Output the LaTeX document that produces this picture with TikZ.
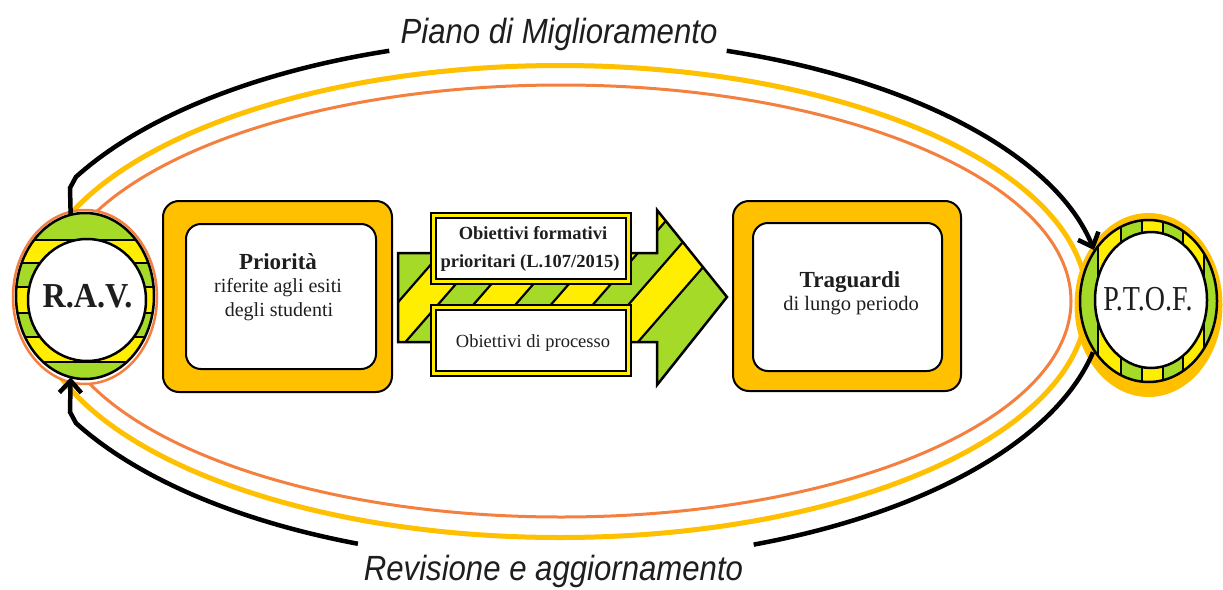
\documentclass[tikz,border=0pt]{standalone}
\usepackage{fontspec}
\setmainfont{Liberation Serif}
\newfontfamily\capfont[FakeStretch=0.89]{Liberation Sans}
\newfontfamily\ptoffont[FakeStretch=0.8]{Liberation Serif}
\newfontfamily\ravfont[FakeStretch=0.92]{Liberation Serif}
\usetikzlibrary{arrows.meta,shapes.geometric}
\definecolor{lime}{RGB}{165,218,40}
\definecolor{yel}{RGB}{255,238,0}
\definecolor{gold}{RGB}{255,192,0}
\definecolor{orng}{RGB}{244,128,64}
\definecolor{ink}{RGB}{30,30,30}
\begin{document}
\begin{tikzpicture}[x=1pt,y=-1pt,
  blk/.style={line width=4.5pt, draw=black},
  tipstyle/.style={-{Straight Barb[length=12pt,width=22pt]}},
  goldbox/.style={draw=black, line width=2pt, fill=gold, rounded corners=16pt, inner sep=0pt},
  whitebox/.style={draw=black, line width=2pt, fill=white, rounded corners=15pt, inner sep=0pt},
  objbox/.style={draw=black, line width=1.8pt, double=yel, double distance=3pt, fill=white, inner sep=0pt, minimum width=195pt, minimum height=66pt},
  stripe/.style={fill=yel, draw=black, line width=2.2pt},
  txt/.style={anchor=base, text=ink, inner sep=0pt},
  ring/.style={ellipse, inner sep=0pt},
]
\useasboundingbox (0,0) rectangle (1223,589);
\fill[white] (0,0) rectangle (1223,589);

% big ellipses
\draw[gold, line width=5pt] (560,301.5) ellipse [x radius=527, y radius=236];
\draw[orng, line width=3pt] (561,301) ellipse [x radius=510, y radius=216];

% R.A.V. ring
\draw[orng, line width=2.5pt, fill=white] (85,297) ellipse [x radius=72, y radius=87];
\begin{scope}
  \clip (85,296) ellipse [x radius=69, y radius=83];
  \fill[lime] (10,200) rectangle (160,400);
  \foreach \ya/\yb in {240/263, 287/313, 337/362}
    \filldraw[stripe] (10,\ya) rectangle (160,\yb);
\end{scope}
\draw[black, line width=2.5pt] (85,296) ellipse [x radius=69, y radius=83];
\draw[black, line width=2.5pt, fill=white] (87,300) ellipse [x radius=59, y radius=61];
\node[ring, minimum width=138pt, minimum height=166pt] (rav) at (85,296) {};
\node[txt] (ravt) at (87.5,307) {\ravfont\bfseries\fontsize{35}{35}\selectfont R.A.V.};

% P.T.O.F. ring
\fill[gold] (1148.5,305) ellipse [x radius=74, y radius=92];
\begin{scope}
  \clip (1148.5,301) ellipse [x radius=68.5, y radius=81];
  \fill[lime] (1070,210) rectangle (1230,390);
  \foreach \xa/\xb in {1098/1121, 1142/1163, 1183/1204}
    \filldraw[stripe] (\xa,200) rectangle (\xb,400);
\end{scope}
\draw[black, line width=2.5pt] (1148.5,301) ellipse [x radius=68.5, y radius=81];
\draw[black, line width=2.5pt, fill=white] (1151,300) ellipse [x radius=56, y radius=68];
\node[ring, minimum width=137pt, minimum height=162pt] (ptof) at (1148.5,301) {};
\node[txt] (ptoft) at (1148,310) {\ptoffont\fontsize{35}{35}\selectfont P.T.O.F.};

% black connectors
\draw[blk] (rav.100) -- (70,188) -- ([shift={(558,300)}]-152:546 and 262)
  arc [start angle=-152, end angle=-108, x radius=546, y radius=262];
\draw[blk, tipstyle] ([shift={(558,300)}]-72:546 and 262)
  arc [start angle=-72, end angle=-11, x radius=546, y radius=262];
\draw[blk, tipstyle] ([shift={(558,300)}]111.5:546 and 262)
  arc [start angle=111.5, end angle=152, x radius=546, y radius=262] -- (70,412) -- (rav.260);
\draw[blk] ([shift={(558,300)}]69:546 and 262)
  arc [start angle=69, end angle=11.5, x radius=546, y radius=262];

\node[txt] (piano) at (559,43) {\capfont\itshape\fontsize{35}{35}\selectfont Piano di Miglioramento};
\node[txt] (revis) at (553.5,580) {\capfont\itshape\fontsize{35}{35}\selectfont Revisione e aggiornamento};

% Priorità box
\node[goldbox, minimum width=229pt, minimum height=191pt] (pri) at (277.5,296.5) {};
\node[whitebox, minimum width=190pt, minimum height=145pt] (prii) at (281,296.5) {};
\node[txt] (pri1) at (278,269) {\bfseries\fontsize{23}{23}\selectfont Priorità};
\node[txt] (pri2) at (278,292) {\fontsize{20}{20}\selectfont riferite agli esiti};
\node[txt] (pri3) at (279,316) {\fontsize{20}{20}\selectfont degli studenti};

% Traguardi box
\node[goldbox, minimum width=228pt, minimum height=190pt] (tra) at (847,296) {};
\node[whitebox, minimum width=189pt, minimum height=148pt] (trai) at (847.5,297) {};
\node[txt] (tra1) at (850,287) {\bfseries\fontsize{23}{23}\selectfont Traguardi};
\node[txt] (tra2) at (851,310) {\fontsize{20.5}{20.5}\selectfont di lungo periodo};

% big striped arrow
\fill[lime] (398,253) -- (657,253) -- (657,210) -- (727,297) -- (657,385) -- (657,342) -- (398,342) -- cycle;
\begin{scope}
  \clip (398,253) -- (657,253) -- (657,210) -- (727,297) -- (657,385) -- (657,342) -- (398,342) -- cycle;
  \foreach \a in {400,477.5,555,632.5}
    \filldraw[stripe] (\a-87,400) -- (\a+87,200) -- (\a+129,200) -- (\a-45,400) -- cycle;
\end{scope}
\draw[black, line width=2.5pt, line join=miter] (398,253) -- (657,253) -- (657,210) -- (727,297) -- (657,385) -- (657,342) -- (398,342) -- cycle;

% objective boxes
\node[objbox] (obf) at (531,248.5) {};
\node[txt] (obf1) at (533,239) {\bfseries\fontsize{18.5}{18.5}\selectfont Obiettivi formativi};
\node[txt] (obf2) at (530,267) {\bfseries\fontsize{18.5}{18.5}\selectfont prioritari (L.107/2015)};
\node[objbox] (obp) at (531,340.5) {};
\node[txt] (obp1) at (533,347) {\fontsize{18.5}{18.5}\selectfont Obiettivi di processo};
\end{tikzpicture}
\end{document}
